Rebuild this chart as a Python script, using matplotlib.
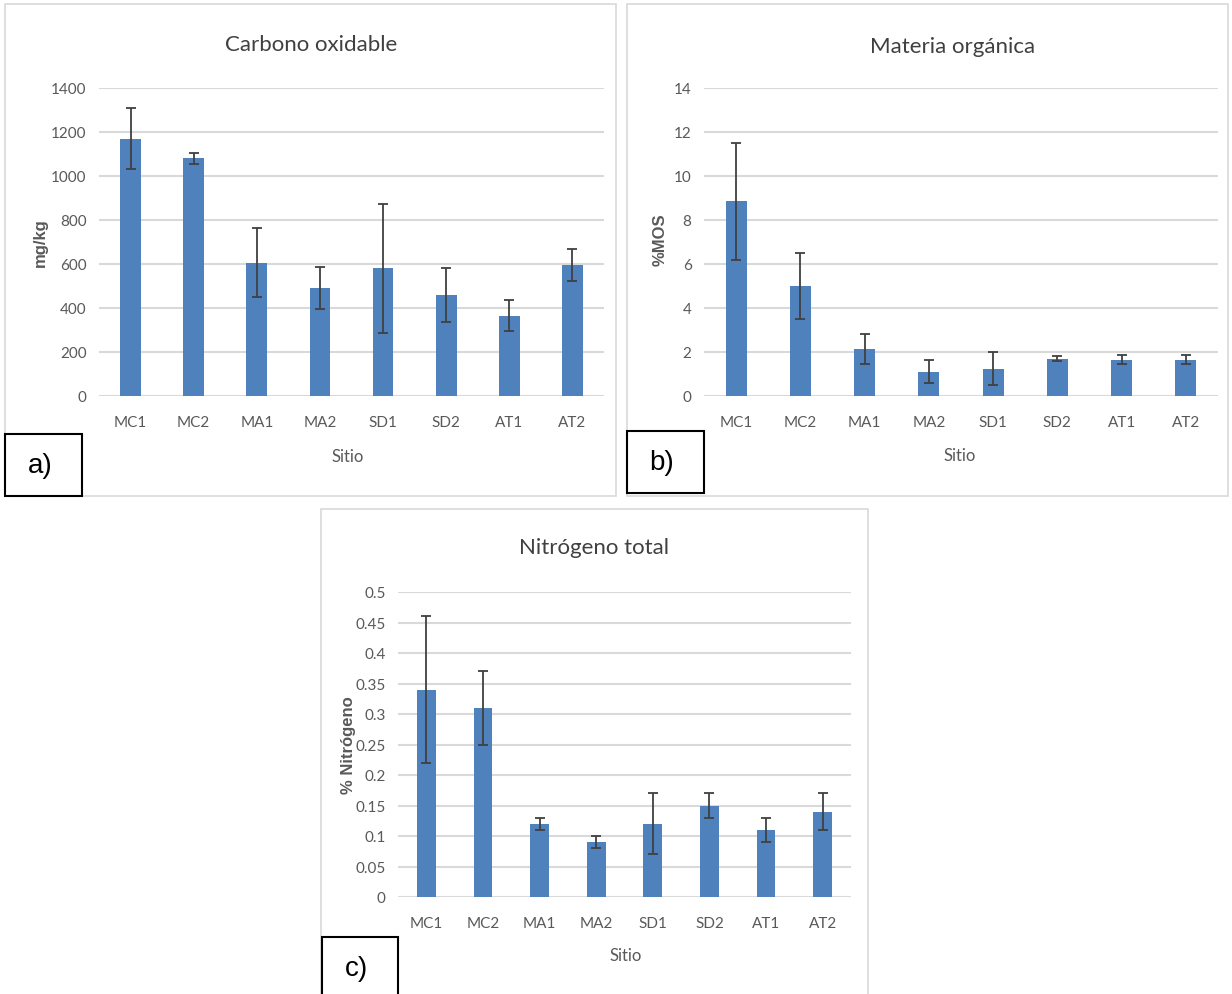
import matplotlib
matplotlib.use("Agg")
import matplotlib.pyplot as plt
from matplotlib.patches import Rectangle

plt.rcParams['font.family'] = ['Lato', 'DejaVu Sans']

sitios = ["MC1", "MC2", "MA1", "MA2", "SD1", "SD2", "AT1", "AT2"]

# carbono oxidable (mg/kg)
carbono = [1170, 1080, 605, 490, 580, 460, 365, 595]
carbono_err = [140, 25, 157, 95, 292, 123, 70, 72]

# materia organica (%MOS)
materia = [8.85, 5.0, 2.12, 1.1, 1.25, 1.7, 1.65, 1.65]
materia_err = [2.65, 1.52, 0.68, 0.52, 0.77, 0.1, 0.2, 0.2]

# nitrogeno total (%)
nitrogeno = [0.34, 0.31, 0.12, 0.09, 0.12, 0.15, 0.11, 0.14]
nitrogeno_err = [0.12, 0.06, 0.01, 0.01, 0.05, 0.02, 0.02, 0.03]

W, H = 1232, 995
fig = plt.figure(figsize=(W / 100, H / 100), dpi=100)

BLUE = "#4F81BD"
GREY = "#595959"


def px(x0, y0, x1, y1):
    # pixel box (top-left origin) -> figure fraction
    return [x0 / W, 1 - y1 / H, (x1 - x0) / W, (y1 - y0) / H]


def panel(box, plot, vals, errs, ymax, step, title, ylabel, ytick_fmt, letter, lbox,
          title_xy, xlab_xy, ylab_xy):
    # outer frame
    fig.patches.append(Rectangle((box[0] / W, 1 - box[3] / H), (box[2] - box[0]) / W,
                                 (box[3] - box[1]) / H, transform=fig.transFigure,
                                 fill=False, edgecolor="#D9D9D9", lw=1.2))
    ax = fig.add_axes(px(*plot))
    x = range(len(sitios))
    ax.bar(x, vals, width=0.33, color=BLUE, zorder=3)
    ax.errorbar(x, vals, yerr=errs, fmt="none", ecolor="#404040", elinewidth=1.3,
                capsize=3.5, capthick=1.3, zorder=4)
    ax.set_xlim(-0.5, len(sitios) - 0.5)
    ax.set_ylim(0, ymax)
    ticks = [i * step for i in range(int(round(ymax / step)) + 1)]
    ax.set_yticks(ticks)
    ax.set_yticklabels([ytick_fmt(t) for t in ticks])
    ax.set_xticks(list(x))
    ax.set_xticklabels(sitios)
    ax.grid(axis="y", color="#D9D9D9", lw=1.5, zorder=0)
    ax.set_axisbelow(True)
    for s in ax.spines.values():
        s.set_visible(False)
    ax.tick_params(length=0, labelsize=11, labelcolor=GREY)
    ax.tick_params(axis="x", pad=14)
    ax.tick_params(axis="y", pad=9)
    ax.patch.set_alpha(0)
    fig.text(title_xy[0] / W, 1 - title_xy[1] / H, title, ha="center", va="center",
             fontsize=16, color="#404040")
    fig.text(xlab_xy[0] / W, 1 - xlab_xy[1] / H, "Sitio", ha="center", va="center",
             fontsize=12, color=GREY)
    fig.text(ylab_xy[0] / W, 1 - ylab_xy[1] / H, ylabel, ha="center", va="center",
             rotation=90, fontsize=12, fontweight="bold", color=GREY,
             family=["Liberation Sans", "DejaVu Sans"])
    # letter box
    fig.patches.append(Rectangle((lbox[0] / W, 1 - lbox[3] / H), (lbox[2] - lbox[0]) / W,
                                 (lbox[3] - lbox[1]) / H, transform=fig.transFigure,
                                 facecolor="white", edgecolor="black", lw=1.5, zorder=5))
    fig.text((lbox[0] + 35) / W, 1 - ((lbox[1] + lbox[3]) / 2) / H, letter, ha="center",
             va="center", fontsize=20, color="black",
             family=["Liberation Sans", "DejaVu Sans"], zorder=6)
    return ax


def fmt_int(t):
    return "%d" % t


def fmt_dec(t):
    s = ("%.2f" % t).rstrip("0").rstrip(".")
    return s


panel((5, 5, 616, 497), (99, 89, 604, 397), carbono, carbono_err, 1400, 200,
      "Carbono oxidable", "mg/kg", fmt_int, "a)", (5, 435, 82, 497),
      (311, 45), (348, 457), (40, 243))

panel((627, 5, 1228, 497), (704, 89, 1218, 397), materia, materia_err, 14, 2,
      "Materia orgánica", "%MOS", fmt_int, "b)", (627, 432, 704, 494),
      (953, 47), (960, 456), (660, 240))

panel((321, 510, 868, 1000), (398, 593, 851, 898), nitrogeno, nitrogeno_err, 0.5, 0.05,
      "Nitrógeno total", "% Nitrógeno", fmt_dec, "c)", (322, 938, 398, 1000),
      (594, 548), (626, 956), (348, 745))

fig.savefig("out.png", dpi=100)
